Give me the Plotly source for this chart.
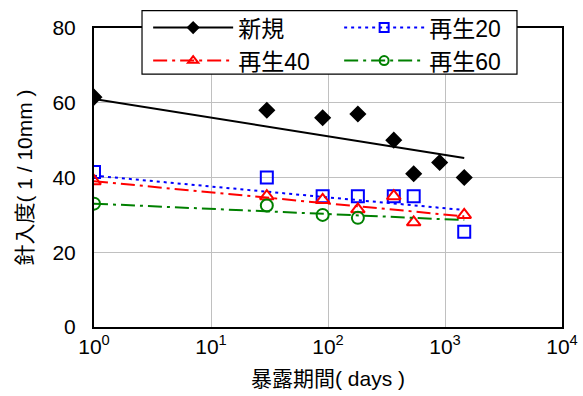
import plotly.graph_objects as go

# --- data ---
days_new = [1, 30, 90, 180, 365, 540, 900, 1460]
pen_new = [61.5, 58, 56, 57, 50, 41, 44, 40]

days_r20 = [1, 30, 90, 180, 365, 540, 1460]
pen_r20 = [41.5, 40, 35, 35, 35, 35, 25.5]

days_r40 = [1, 30, 90, 180, 365, 540, 1460]
pen_r40 = [39, 35, 34, 31.5, 35, 28, 30]

days_r60 = [1, 30, 90, 180]
pen_r60 = [33, 32.5, 30, 29.2]

# trend line end points (straight in log-x space)
trend_x = [1, 1460]
trend_new = [61.0, 45.2]
trend_r20 = [40.5, 31.3]
trend_r40 = [39.0, 29.6]
trend_r60 = [33.0, 28.6]

names = ["新規", "再生20", "再生40", "再生60"]
colors = ["black", "blue", "red", "green"]
symbols = ["diamond", "square-open", "triangle-up-open", "circle-open"]
dashes = ["solid", "3px,4px", "14px,5px,3px,5px", "14px,5px,3px,5px"]
sizes = [11, 12, 12, 12]
leg_sizes = [8, 9, 9, 9]

series = [(days_new, pen_new, trend_new), (days_r20, pen_r20, trend_r20),
          (days_r40, pen_r40, trend_r40), (days_r60, pen_r60, trend_r60)]

fig = go.Figure()
for i, (xs, ys, tr) in enumerate(series):
    fig.add_trace(go.Scatter(x=trend_x, y=tr, mode="lines", showlegend=False,
                             line=dict(color=colors[i], width=2, dash=dashes[i]),
                             hoverinfo="skip"))
    fig.add_trace(go.Scatter(x=xs, y=ys, mode="markers", showlegend=False,
                             marker=dict(symbol=symbols[i], size=sizes[i], color=colors[i],
                                         line=dict(color=colors[i], width=2))))
for i in range(4):
    fig.add_trace(go.Scatter(x=[None], y=[None], mode="lines+markers", name=names[i],
                             line=dict(color=colors[i], width=2, dash=dashes[i]),
                             marker=dict(symbol=symbols[i], size=leg_sizes[i], color=colors[i],
                                         line=dict(color=colors[i], width=2))))

font_main = "Liberation Sans, Arial, Noto Sans CJK JP, sans-serif"
tickv = [1, 10, 100, 1000, 10000]
tickt = ["10<sup>0</sup>", "10<sup>1</sup>", "10<sup>2</sup>", "10<sup>3</sup>", "10<sup>4</sup>"]

# legend frame drawn as a shape (white box over plot frame)
fig.add_shape(type="rect", xref="paper", yref="paper",
              x0=0.1026, x1=0.9038, y0=0.846, y1=1.0579,
              fillcolor="white", line=dict(color="black", width=1.2), layer="above")

fig.update_layout(
    width=583, height=396,
    margin=dict(l=94, r=21, t=28, b=69, autoexpand=False),
    paper_bgcolor="white", plot_bgcolor="white",
    font=dict(family=font_main, size=21, color="black"),
    xaxis=dict(type="log", range=[0, 4], tickvals=tickv, ticktext=tickt,
               showgrid=True, gridcolor="#c0c0c0", gridwidth=1,
               showline=True, linecolor="black", linewidth=2, mirror=True,
               ticks="", zeroline=False, automargin=False,
               title=dict(text="暴露期間( days )", font=dict(size=21), standoff=14)),
    yaxis=dict(range=[0, 80], tickvals=[0, 20, 40, 60, 80],
               showgrid=True, gridcolor="#c0c0c0", gridwidth=1,
               showline=True, linecolor="black", linewidth=2, mirror=True,
               ticks="", zeroline=False, ticklabelstandoff=12, automargin=False,
               title=dict(text="針入度( 1 / 10mm )", font=dict(size=21), standoff=14)),
    legend=dict(orientation="h", x=0.1157, y=1.073, xanchor="left", yanchor="top",
                bgcolor="rgba(0,0,0,0)", borderwidth=0,
                font=dict(size=23), itemwidth=80, entrywidth=96,
                tracegroupgap=0),
    showlegend=True,
)

fig.write_html("out.html")
